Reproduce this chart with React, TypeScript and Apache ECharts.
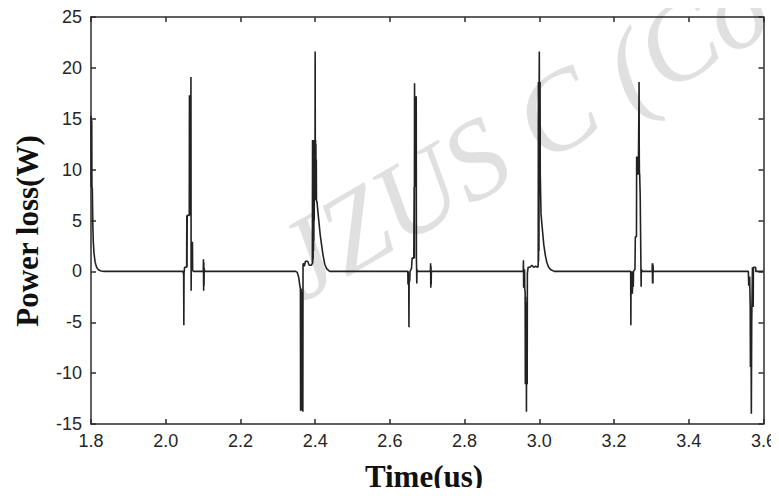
import React, { useEffect, useRef } from "react";
import * as echarts from "echarts";

// Time (us) and power loss (W) pairs, one array per switching event
const pulseA: [number, number][] = [
  [1.8, 15.3], [1.8005, 8.3], [1.801, 15.0], [1.8015, 8.3], [1.802, 14.8], [1.8025, 8.3],
  [1.8035, 8.1], [1.805, 4.4], [1.806, 3.0], [1.808, 1.8], [1.811, 0.9], [1.815, 0.4],
  [1.82, 0.15], [1.827, 0.03], [1.835, 0],
];
const pulseB: [number, number][] = [
  [2.046, 0], [2.048, -0.3], [2.0485, -5.3], [2.049, -0.2], [2.0505, 0.4], [2.056, 0.4],
  [2.0565, 5.5], [2.057, 0.4], [2.0575, 5.5], [2.063, 5.5], [2.0635, 17.3], [2.064, 5.5],
  [2.0645, 17.3], [2.065, 5.5], [2.0655, 17.3], [2.066, 5.5], [2.0665, 17.3], [2.067, 5.5],
  [2.0675, 19.1], [2.068, -1.9], [2.0685, 0.6], [2.0695, 2.9], [2.07, 0.4], [2.0705, 2.9],
  [2.071, 0.3], [2.0715, 2.9], [2.072, 0.1], [2.074, 0],
  [2.1005, 0], [2.101, 1.2], [2.1015, -1.9], [2.102, 0.9], [2.1025, -1.4], [2.103, 0.3], [2.104, 0],
];
const pulseC: [number, number][] = [
  [2.348, 0], [2.352, -0.1], [2.356, -0.6], [2.359, -1.4], [2.3605, -1.7], [2.361, -13.7],
  [2.3615, -1.7], [2.362, -13.7], [2.3625, -1.7], [2.363, -13.7], [2.3635, -2.0], [2.364, -13.7],
  [2.3645, -2.5], [2.365, -13.7], [2.3655, -3.0], [2.366, -13.7], [2.3665, -5.0], [2.367, -13.8],
  [2.3675, 0.6], [2.3685, 0.8], [2.371, 0.5], [2.374, 1.0], [2.38, 1.0], [2.384, 0.6], [2.39, 0.6],
  [2.3925, 0.8], [2.393, 12.9], [2.3935, 0.8], [2.394, 12.9], [2.3945, 1.2], [2.395, 12.9],
  [2.3955, 2.0], [2.396, 12.9], [2.3965, 3.0], [2.397, 12.9], [2.3975, 5.0], [2.398, 12.9],
  [2.3985, 7.0], [2.399, 12.9], [2.3995, 8.0], [2.4, 21.6], [2.4005, 7.5], [2.401, 12.9],
  [2.4015, 7.2], [2.402, 12.5], [2.4025, 7.0], [2.403, 11.0], [2.4035, 7.0], [2.405, 6.8],
  [2.408, 5.6], [2.4105, 4.7], [2.4135, 3.6], [2.4168, 2.7], [2.421, 1.6], [2.4257, 0.7],
  [2.431, 0.25], [2.439, 0],
];
const pulseD: [number, number][] = [
  [2.645, 0], [2.648, 0], [2.6485, -1.3], [2.649, 0], [2.6495, -1.3], [2.65, -0.2], [2.6505, -1.3],
  [2.651, -5.5], [2.6515, -1.3], [2.652, -0.3], [2.653, -1.0], [2.654, 0], [2.658, 0.3],
  [2.6595, 1.3], [2.664, 1.3], [2.665, 8.3], [2.6655, 1.3], [2.666, 18.5], [2.667, 8.3],
  [2.6675, 17.2], [2.668, 8.3], [2.6685, 17.2], [2.669, 8.3], [2.6695, 17.2], [2.67, 8.3],
  [2.6705, 17.2], [2.671, 1.3], [2.6715, 0.3], [2.672, -1.2], [2.6725, 0.2], [2.674, 0],
  [2.7085, 0], [2.709, 0.8], [2.7095, -1.6], [2.71, 0.5], [2.7105, -1.3], [2.711, 0],
];
const pulseE: [number, number][] = [
  [2.954, 0], [2.957, 0], [2.9575, 1.1], [2.958, -1.6], [2.9585, 0.2], [2.959, -1.6],
  [2.9595, 0.2], [2.96, -1.6], [2.9605, 0.2], [2.961, -1.8], [2.962, -2.0], [2.9625, -11.1],
  [2.963, -2.5], [2.9635, -11.1], [2.964, -3.0], [2.9645, -11.1], [2.965, -4.0], [2.9655, -13.8],
  [2.966, -5.0], [2.9665, -11.1], [2.967, -6.0], [2.9675, -11.1], [2.968, -0.2], [2.97, 0.4],
  [2.975, 0.4], [2.98, 0.6], [2.985, 0.4], [2.99, 0.5], [2.996, 0.4], [2.997, 0.6],
  [2.9975, 18.6], [2.998, 1.0], [2.9985, 18.6], [2.999, 2.0], [2.9995, 18.6], [3.0, 21.6],
  [3.0005, 9.6], [3.001, 18.6], [3.0015, 9.6], [3.002, 18.6], [3.0025, 9.6], [3.003, 9.6],
  [3.0045, 5.7], [3.006, 5.0], [3.009, 3.8], [3.012, 2.6], [3.016, 1.6], [3.02, 0.9],
  [3.025, 0.4], [3.031, 0.15], [3.04, 0],
];
const pulseF: [number, number][] = [
  [3.242, 0], [3.2445, 0], [3.245, -5.3], [3.2455, -0.3], [3.246, -2.2], [3.2465, 0],
  [3.247, -2.2], [3.2475, 0], [3.248, -2.2], [3.2485, 0], [3.249, -2.2], [3.25, -2.2],
  [3.2505, 0], [3.2515, -1.5], [3.252, 0], [3.256, 0.2], [3.257, 3.4], [3.26, 3.4],
  [3.2605, 11.3], [3.261, 9.5], [3.2615, 11.3], [3.262, 9.5], [3.2625, 11.3], [3.263, 9.5],
  [3.2635, 11.3], [3.264, 9.5], [3.2645, 11.3], [3.265, 9.5], [3.267, 18.6], [3.2675, 11.3],
  [3.268, 9.5], [3.2685, 9.6], [3.27, 7.5], [3.2725, -1.5], [3.273, 0.2], [3.275, 0],
  [3.302, 0], [3.3025, 0.8], [3.303, -1.2], [3.3035, 0.8], [3.304, -1.2], [3.3045, 0.6], [3.305, 0],
];
const pulseG: [number, number][] = [
  [3.555, 0], [3.5595, 0], [3.5605, -1.4], [3.561, -0.5], [3.5615, -1.4], [3.562, -0.5],
  [3.5625, -1.4], [3.563, -0.5], [3.5635, -1.6], [3.5645, -3.5], [3.565, -9.4], [3.5655, -3.5],
  [3.566, -9.4], [3.5665, -3.5], [3.567, -9.4], [3.5675, -14.0], [3.568, -9.4], [3.5685, -5.0],
  [3.5705, 0.4], [3.572, 0.4], [3.5725, -3.5], [3.573, 0.4], [3.579, 0.4], [3.5795, 0], [3.6, 0],
];

const xTicks = { min: 1.8, max: 3.6, step: 0.2 };
const yTicks = { min: -15, max: 25, step: 5 };

const xTitle = "Time(us)";
const yTitle = "Power loss(W)";
const watermark = "JZUS C (Com";

export default function App() {
  const ref = useRef<HTMLDivElement>(null);
  useEffect(() => {
    if (!ref.current) return;
    const chart = echarts.init(ref.current, undefined, { renderer: "svg" });
    const data = [...pulseA, ...pulseB, ...pulseC, ...pulseD, ...pulseE, ...pulseF, ...pulseG];
    const axisLineStyle = { color: "#2b2b2b", width: 1.5 };
    const labelStyle = {
      color: "#262626",
      fontFamily: "Liberation Sans, Arial, sans-serif",
      fontSize: 18,
    };
    const titleFont = "Liberation Serif";
    chart.setOption({
      animation: false,
      backgroundColor: "#fff",
      grid: { left: 91, top: 17, right: 15, bottom: 72, containLabel: false },
      xAxis: [
        {
          type: "value",
          position: "bottom",
          min: xTicks.min,
          max: xTicks.max,
          interval: xTicks.step,
          axisLine: { show: true, onZero: false, lineStyle: axisLineStyle },
          axisTick: { show: true, inside: true, length: 5, lineStyle: axisLineStyle },
          axisLabel: { ...labelStyle, margin: 8, formatter: (v: number) => v.toFixed(1) },
          splitLine: { show: false },
        },
        {
          type: "value",
          position: "top",
          min: xTicks.min,
          max: xTicks.max,
          interval: xTicks.step,
          axisLine: { show: true, onZero: false, lineStyle: axisLineStyle },
          axisTick: { show: true, inside: true, length: 5, lineStyle: axisLineStyle },
          axisLabel: { show: false },
          splitLine: { show: false },
        },
      ],
      yAxis: [
        {
          type: "value",
          position: "left",
          min: yTicks.min,
          max: yTicks.max,
          interval: yTicks.step,
          axisLine: { show: true, onZero: false, lineStyle: axisLineStyle },
          axisTick: { show: true, inside: true, length: 5, lineStyle: axisLineStyle },
          axisLabel: { ...labelStyle, margin: 9 },
          splitLine: { show: false },
        },
        {
          type: "value",
          position: "right",
          min: yTicks.min,
          max: yTicks.max,
          interval: yTicks.step,
          axisLine: { show: true, onZero: false, lineStyle: axisLineStyle },
          axisTick: { show: true, inside: true, length: 5, lineStyle: axisLineStyle },
          axisLabel: { show: false },
          splitLine: { show: false },
        },
      ],
      graphic: [
        {
          type: "text",
          x: 312,
          y: 318,
          rotation: Math.PI / 6,
          z: -10,
          silent: true,
          style: {
            text: watermark,
            fontStyle: "italic",
            fontSize: 112,
            fontFamily: "Liberation Serif",
            fill: "#e0e0e0",
            align: "left",
            verticalAlign: "bottom",
          },
        },
        {
          type: "text",
          x: 424,
          y: 476,
          style: {
            text: xTitle,
            fontWeight: "bold",
            fontSize: 31,
            fontFamily: titleFont,
            fill: "#111",
            align: "center",
            verticalAlign: "middle",
          },
        },
        {
          type: "text",
          x: 27,
          y: 231,
          rotation: Math.PI / 2,
          style: {
            text: yTitle,
            fontWeight: "bold",
            fontSize: 31,
            fontFamily: titleFont,
            fill: "#111",
            align: "center",
            verticalAlign: "middle",
          },
        },
      ],
      series: [
        {
          type: "line",
          data,
          xAxisIndex: 0,
          yAxisIndex: 0,
          showSymbol: false,
          symbol: "none",
          z: 5,
          lineStyle: { color: "#222", width: 1.6 },
        },
      ],
    });
    return () => chart.dispose();
  }, []);
  return <div ref={ref} style={{ width: 779, height: 496, margin: -8 }} />;
}
